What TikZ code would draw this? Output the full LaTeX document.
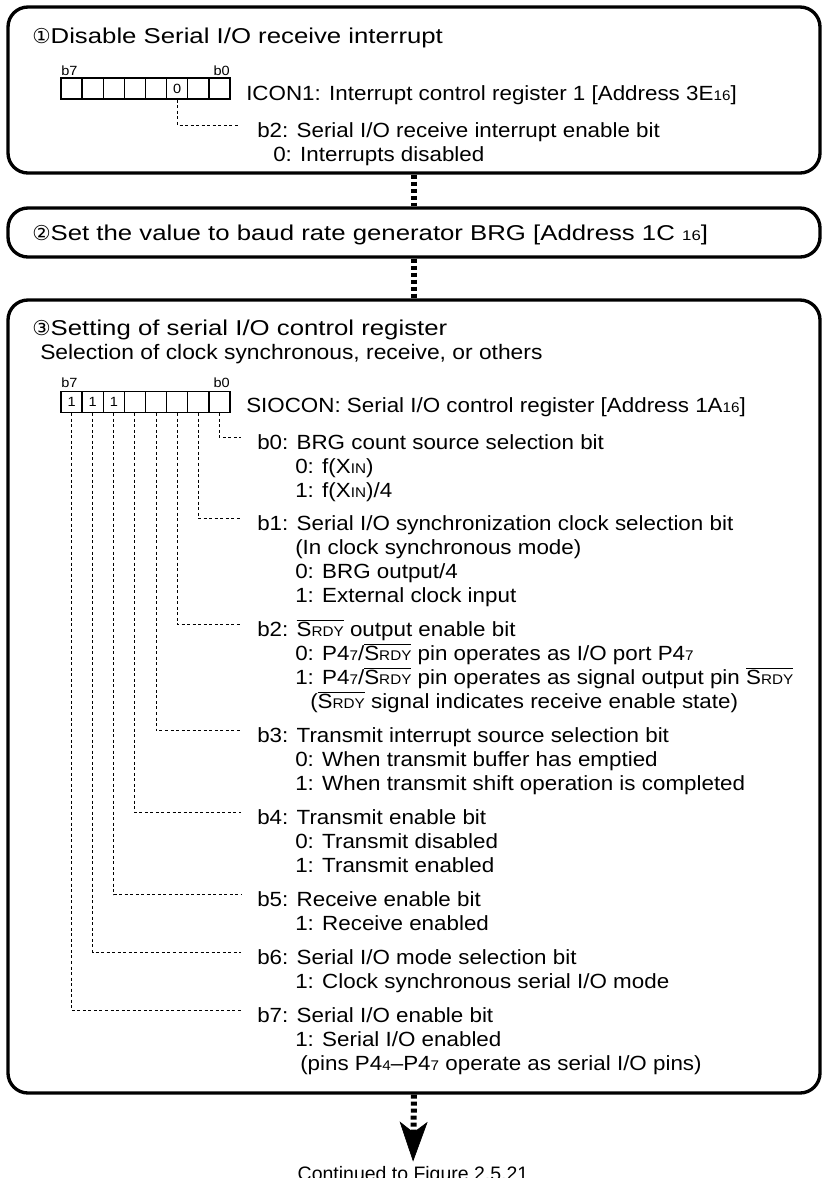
\documentclass[tikz,border=0pt]{standalone}
\usepackage{fontspec}
\setmainfont{Liberation Sans}[FakeStretch=1.09]
\newfontfamily\titlefont{Liberation Sans}[FakeStretch=1.2]
\newfontfamily\circfont{DejaVu Sans}
\newfontfamily\plainfont{Liberation Sans}
\usetikzlibrary{arrows.meta}

\newcommand\bodysz{\fontsize{15.4pt}{18.075pt}\selectfont}
\newcommand\smlt[1]{{\fontsize{10.5pt}{10.5pt}\selectfont #1}}
\newcommand\xin{X\smlt{IN}}
\newcommand\srdy{\smash{\ensuremath{\overline{\hbox{S\smlt{RDY}}}}}}
\newcommand\subind{\hspace*{28.5pt}}
\newcommand\bitlines[1]{\begin{tabular}[t]{@{}l@{}}#1\end{tabular}}

\tikzset{
  stepbox/.style={draw, line width=2.5pt, rounded corners=15pt, inner sep=0pt, minimum width=609pt},
  cell/.style={draw, line width=1pt, minimum width=15.84pt, minimum height=15.75pt, inner sep=0pt,
    font=\fontsize{10pt}{10pt}\selectfont},
  dotlink/.style={line width=4.5pt, dash pattern=on 3pt off 2.25pt},
  bitline/.style={line width=0.75pt, dash pattern=on 2.25pt off 1.9pt},
  txt/.style={anchor=base west, inner sep=0pt, font=\bodysz},
  headtxt/.style={anchor=base west, inner sep=0pt, font=\titlefont\fontsize{16.1pt}{18pt}\selectfont},
  bitno/.style={inner sep=0pt, font=\fontsize{10pt}{10pt}\selectfont},
}

\begin{document}
\begin{tikzpicture}[x=0.75pt, y=-0.75pt]
  \useasboundingbox (0,0) rectangle (826,1178);

  % Step 1: ICON1
  \node[stepbox, minimum height=124.5pt] (box1) at (414,90) {};
  \node[headtxt] (head1) at (32,43) {{\circfont\fontsize{15.4pt}{18pt}\selectfont ①}Disable Serial I/O receive interrupt};
  \foreach \b/\v in {7/{},6/{},5/{},4/{},3/{},2/0,1/{},0/{}}
    \node[cell] (ra\b) at ({71.56+(7-\b)*21.125},88.5) {\v};
  \node[bitno, anchor=base west] (ra7n) at (61,75) {b7};
  \node[bitno, anchor=base east] (ra0n) at (230,75) {b0};
  \node[txt] (icon) at (246,100) {ICON1: Interrupt control register 1 [Address 3E\smlt{16}]};
  \node[txt] (icb2) at (257,137) {\bitlines{b2: Serial I/O receive interrupt enable bit\\
    \hspace*{12pt}0: Interrupts disabled}};
  \draw[bitline] (ra2.south) |- ([shift={(-17,-12)}]icb2.base west);

  % Step 2: BRG
  \node[stepbox, minimum height=36.75pt] (box2) at (414,232.5) {};
  \node[headtxt] (head2) at (32,240) {{\circfont\fontsize{15.4pt}{18pt}\selectfont ②}Set the value to baud rate generator BRG [Address 1C \smlt{16}]};

  % Step 3: SIOCON
  \node[stepbox, minimum height=594.75pt] (box3) at (414,696.5) {};
  \node[headtxt] (head3) at (32,335) {{\circfont\fontsize{15.4pt}{18pt}\selectfont ③}Setting of serial I/O control register};
  \node[txt, font=\fontsize{15.7pt}{18pt}\selectfont] (sel) at (40,359) {Selection of clock synchronous, receive, or others};
  \foreach \b/\v in {7/1,6/1,5/1,4/{},3/{},2/{},1/{},0/{}}
    \node[cell] (rc\b) at ({71.56+(7-\b)*21.125},402) {\v};
  \node[bitno, anchor=base west] (rc7n) at (61,387) {b7};
  \node[bitno, anchor=base east] (rc0n) at (230,387) {b0};
  \node[txt] (siocon) at (246,412) {SIOCON: Serial I/O control register [Address 1A\smlt{16}]};

  \node[txt] (bit0) at (257,449) {\bitlines{b0: BRG count source selection bit\\
    \subind 0: f(\xin)\\
    \subind 1: f(\xin)/4}};
  \node[txt] (bit1) at (257,530) {\bitlines{b1: Serial I/O synchronization clock selection bit\\
    \subind(In clock synchronous mode)\\
    \subind 0: BRG output/4\\
    \subind 1: External clock input}};
  \node[txt] (bit2) at (257,636.1) {\bitlines{b2: \srdy{} output enable bit\\
    \subind 0: P4\smlt{7}/\srdy{} pin operates as I/O port P4\smlt{7}\\
    \subind 1: P4\smlt{7}/\srdy{} pin operates as signal output pin \srdy\\
    \hspace*{39.75pt}(\srdy{} signal indicates receive enable state)}};
  \node[txt] (bit3) at (257,742.2) {\bitlines{b3: Transmit interrupt source selection bit\\
    \subind 0: When transmit buffer has emptied\\
    \subind 1: When transmit shift operation is completed}};
  \node[txt] (bit4) at (257,824.2) {\bitlines{b4: Transmit enable bit\\
    \subind 0: Transmit disabled\\
    \subind 1: Transmit enabled}};
  \node[txt] (bit5) at (257,906.2) {\bitlines{b5: Receive enable bit\\
    \subind 1: Receive enabled}};
  \node[txt] (bit6) at (257,964.1) {\bitlines{b6: Serial I/O mode selection bit\\
    \subind 1: Clock synchronous serial I/O mode}};
  \node[txt] (bit7) at (257,1022) {\bitlines{b7: Serial I/O enable bit\\
    \subind 1: Serial I/O enabled\\
    \hspace*{32.25pt}(pins P4\smlt{4}--P4\smlt{7} operate as serial I/O pins)}};
  \foreach \b in {0,...,7}
    \draw[bitline] (rc\b.south) |- ([shift={(-16,-11.5)}]bit\b.base west);

  % Continuation
  \node[anchor=base, inner sep=0pt, font=\plainfont\fontsize{14.6pt}{14.6pt}\selectfont] (cont) at (413,1180) {Continued to Figure 2.5.21};

  % Dotted links
  \draw[dotlink] (box1.south) -- (box2.north);
  \draw[dotlink] (box2.south) -- (box3.north);
  \draw[dotlink, -{Stealth[length=30pt, width=21pt, inset=8pt, line width=0.5pt]}, shorten >=3pt] (box3.south) -- (cont.north);
\end{tikzpicture}
\end{document}
